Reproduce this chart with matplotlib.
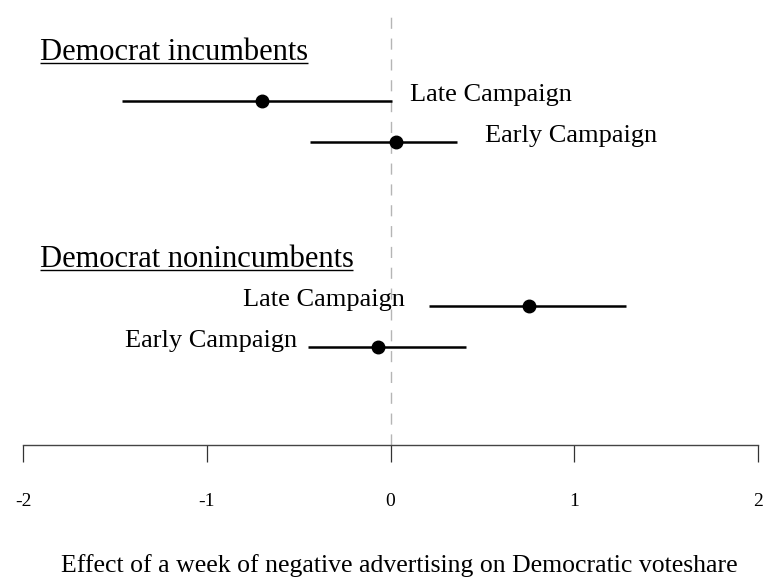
import matplotlib
matplotlib.use("Agg")
import matplotlib.pyplot as plt

# Estimates of the weekly effect of negative advertising, with intervals
groups = ["Democrat incumbents", "Democrat nonincumbents"]
periods = ["Late Campaign", "Early Campaign"]

inc_est = [-0.70, 0.03]
inc_lo = [-1.46, -0.44]
inc_hi = [0.01, 0.36]

noninc_est = [0.755, -0.07]
noninc_lo = [0.21, -0.45]
noninc_hi = [1.28, 0.41]

xticks = [-2, -1, 0, 1, 2]
xlabel = "Effect of a week of negative advertising on Democratic voteshare"

plt.rcParams["font.family"] = ["Liberation Serif", "DejaVu Serif"]

W, H = 767, 579
fig = plt.figure(figsize=(W / 100, H / 100), dpi=100)
# axes spans the plotting band; y runs in pixel-like units from top (0) to axis line (445)
ax = fig.add_axes([23 / W, (H - 445) / H, (758 - 23) / W, 445 / H])
ax.set_xlim(-2, 2)
ax.set_ylim(445, 0)
for s in ["top", "right", "left"]:
    ax.spines[s].set_visible(False)
ax.spines["bottom"].set_color("#444444")
ax.spines["bottom"].set_linewidth(1.0)
ax.set_yticks([])
ax.set_xticks(xticks)
ax.set_xticklabels([str(t) for t in xticks], fontsize=14)
ax.tick_params(axis="x", direction="out", length=12.5, width=0.9,
               color="#333333", pad=22)
ax.set_xlabel(xlabel, fontsize=18.5, va="baseline")
ax.xaxis.set_label_coords(0.512, -0.285)

# reference line at zero
ax.axvline(0, ymin=0, ymax=1 - 9 / 445, color="#b5b5b5", lw=1.0,
           dashes=(8, 7), zorder=0)

group_top = [63, 270]
row_gap = [38, 36]
row_step = [41, 41]
label_x = [[0.106, 0.514], [0.079, -0.509]]
label_ha = ["left", "right"]

estimates = [(inc_est, inc_lo, inc_hi), (noninc_est, noninc_lo, noninc_hi)]

fig.canvas.draw()
renderer = fig.canvas.get_renderer()

for g, name in enumerate(groups):
    ty = group_top[g]
    t = ax.text(-1.91, ty - 3, name, fontsize=22, ha="left", va="baseline")
    bb = t.get_window_extent(renderer=renderer)
    x0, _ = ax.transData.inverted().transform((bb.x0, 0))
    x1, _ = ax.transData.inverted().transform((bb.x1, 0))
    ax.plot([x0, x1], [ty, ty], color="black", lw=1.0, solid_capstyle="butt")
    est, lo, hi = estimates[g]
    for k, per in enumerate(periods):
        y = ty + row_gap[g] + k * row_step[g]
        ax.plot([lo[k], hi[k]], [y, y], color="black", lw=1.8,
                solid_capstyle="butt")
        ax.plot(est[k], y, "o", color="black", markersize=9)
        ax.text(label_x[g][k], y, per, fontsize=19, ha=label_ha[g],
                va="baseline")

fig.savefig("out.png", dpi=100)
